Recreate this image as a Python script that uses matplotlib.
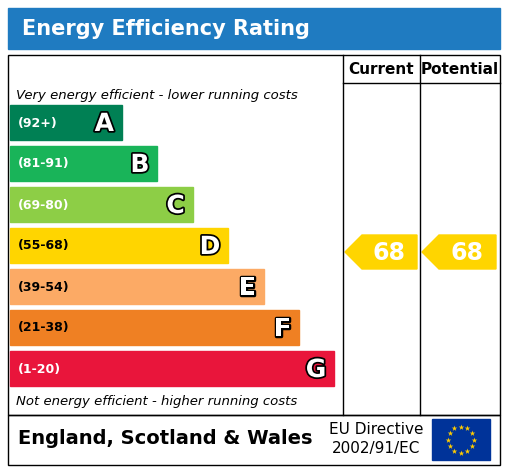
import matplotlib
matplotlib.use("Agg")
import matplotlib.pyplot as plt
import matplotlib.patheffects as pe
from matplotlib.patches import Rectangle, Polygon

bands = ["A", "B", "C", "D", "E", "F", "G"]
ranges = ["(92+)", "(81-91)", "(69-80)", "(55-68)", "(39-54)", "(21-38)", "(1-20)"]
colors = ["#008054", "#19b459", "#8dce46", "#ffd500", "#fcaa65", "#ef8023", "#e9153b"]
current = 68
potential = 68
current_band = "D"
potential_band = "D"

fig = plt.figure(figsize=(5.09, 4.67), dpi=100)
ax = fig.add_axes([0, 0, 1, 1])
ax.set_xlim(0, 509); ax.set_ylim(467, 0); ax.axis("off")

ax.add_patch(Rectangle((8, 8), 492, 41, color="#1f7bc1"))
ax.text(22, 29, "Energy Efficiency Rating", color="white", fontsize=15, fontweight="bold", va="center")

ax.add_patch(Rectangle((8, 55), 492, 360, fill=False, ec="black", lw=1))
ax.add_patch(Rectangle((8, 415), 492, 50, fill=False, ec="black", lw=1))
ax.plot([343, 343], [55, 415], color="black", lw=1)
ax.plot([420, 420], [55, 415], color="black", lw=1)
ax.plot([343, 500], [83, 83], color="black", lw=1)
ax.text(381, 69, "Current", ha="center", va="center", fontsize=11, fontweight="bold")
ax.text(460, 69, "Potential", ha="center", va="center", fontsize=11, fontweight="bold")
ax.text(16, 95, "Very energy efficient - lower running costs", fontsize=9.5, style="italic", va="center")
ax.text(16, 402, "Not energy efficient - higher running costs", fontsize=9.5, style="italic", va="center")

for i, (b, r, c) in enumerate(zip(bands, ranges, colors)):
    top = 105 + i * 41
    right = 122 + i * 35.4
    ax.add_patch(Rectangle((10, top), right - 10, 35, color=c))
    tc = "white" if i < 3 or i == 6 else "black"
    ax.text(18, top + 18, r, fontsize=9, fontweight="bold", va="center", color=tc if i not in (3, 4, 5) else "black")
    ax.text(right - 8, top + 19, b, fontsize=18, fontweight="bold", ha="right", va="center", color="white",
            path_effects=[pe.withStroke(linewidth=2.5, foreground="black")])

def arrow(x0, x1, band, val):
    i = bands.index(band)
    top = 105 + i * 41 + 7; bot = top + 34
    mid = (top + bot) / 2
    ax.add_patch(Polygon([(x0, mid), (x0 + 17, top), (x1, top), (x1, bot), (x0 + 17, bot)], color="#ffd500"))
    ax.text((x0 + 17 + x1) / 2, mid + 1, str(val), fontsize=17, fontweight="bold", color="white", ha="center", va="center")

arrow(345, 417, current_band, current)
arrow(422, 496, potential_band, potential)

ax.text(18, 438, "England, Scotland & Wales", fontsize=14, fontweight="bold", va="center")
ax.text(376, 429, "EU Directive", fontsize=11, ha="center", va="center")
ax.text(376, 448, "2002/91/EC", fontsize=11, ha="center", va="center")
ax.add_patch(Rectangle((432, 419), 58, 41, color="#003399"))
import numpy as np
ang = np.linspace(0, 2 * np.pi, 13)[:-1]
ax.scatter(461 + 13 * np.cos(ang), 439.5 + 13 * np.sin(ang), marker="*", s=18, color="#ffcc00", lw=0)

fig.savefig("out.png", dpi=100)
